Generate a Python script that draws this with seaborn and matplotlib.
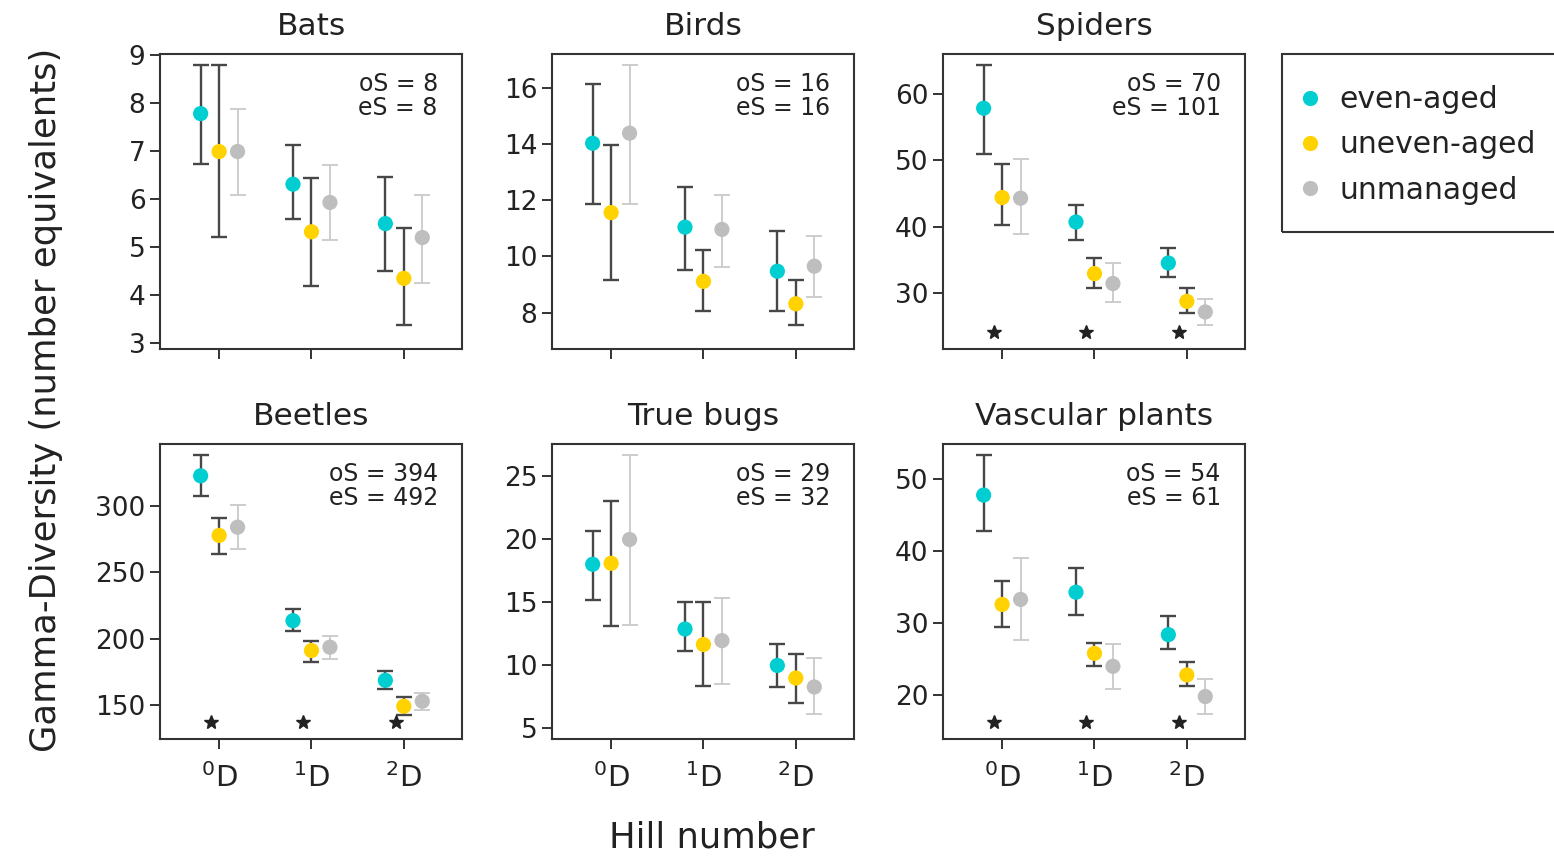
import numpy as np
import pandas as pd
import matplotlib
matplotlib.use("Agg")
import matplotlib.pyplot as plt
import matplotlib.transforms as mtransforms
from matplotlib.patches import Rectangle
import seaborn as sns

# ---------------------------------------------------------------- data
taxa = ["Bats", "Birds", "Spiders", "Beetles", "True bugs", "Vascular plants"]
management = ["even-aged", "uneven-aged", "unmanaged"]
hill_q = [1, 2, 3]
hill_labels = [r"$^{0}$D", r"$^{1}$D", r"$^{2}$D"]

observed_S = [8, 16, 70, 394, 29, 54]
estimated_S = [8, 16, 101, 492, 32, 61]

# rows: even-aged, uneven-aged, unmanaged ; columns: 0D, 1D, 2D
bats_mean = [[7.78, 6.31, 5.49], [6.99, 5.32, 4.35], [6.99, 5.93, 5.20]]
bats_low = [[6.73, 5.58, 4.50], [5.22, 4.19, 3.38], [6.09, 5.15, 4.25]]
bats_high = [[8.79, 7.13, 6.47], [8.79, 6.44, 5.39], [7.87, 6.72, 6.09]]

birds_mean = [[14.03, 11.04, 9.47], [11.56, 9.11, 8.31], [14.39, 10.96, 9.65]]
birds_low = [[11.88, 9.53, 8.06], [9.15, 8.06, 7.56], [11.88, 9.62, 8.54]]
birds_high = [[16.13, 12.48, 10.90], [13.97, 10.21, 9.15], [16.81, 12.18, 10.72]]

spiders_mean = [[57.9, 40.7, 34.5], [44.4, 32.9, 28.7], [44.3, 31.4, 27.1]]
spiders_low = [[51.0, 38.0, 32.4], [40.2, 30.7, 26.9], [38.9, 28.6, 25.2]]
spiders_high = [[64.4, 43.2, 36.7], [49.4, 35.2, 30.7], [50.3, 34.5, 29.0]]

beetles_mean = [[322.4, 213.5, 168.7], [277.6, 191.1, 149.2], [283.8, 193.6, 153.0]]
beetles_low = [[307.5, 205.6, 162.0], [263.4, 182.4, 143.0], [267.6, 184.9, 146.2]]
beetles_high = [[338.1, 222.3, 175.7], [290.8, 198.6, 156.2], [300.7, 202.3, 159.5]]

truebugs_mean = [[18.03, 12.89, 10.0], [18.11, 11.66, 9.0], [20.0, 11.97, 8.29]]
truebugs_low = [[15.21, 11.13, 8.29], [13.11, 8.34, 7.03], [13.24, 8.50, 6.13]]
truebugs_high = [[20.66, 15.0, 11.71], [23.03, 15.0, 10.87], [26.71, 15.39, 10.61]]

plants_mean = [[47.8, 34.3, 28.4], [32.6, 25.8, 22.8], [33.3, 24.0, 19.8]]
plants_low = [[42.8, 31.2, 26.4], [29.5, 24.1, 21.2], [27.6, 20.8, 17.4]]
plants_high = [[53.4, 37.6, 31.0], [35.9, 27.3, 24.6], [39.0, 27.1, 22.3]]

# Hill numbers with a significant management effect (marked with a star)
significant_q = {"Spiders": [1, 2, 3], "Beetles": [1, 2, 3], "Vascular plants": [1, 2, 3]}

y_ticks = [
    [3, 4, 5, 6, 7, 8, 9],
    [8, 10, 12, 14, 16],
    [30, 40, 50, 60],
    [150, 200, 250, 300],
    [5, 10, 15, 20, 25],
    [20, 30, 40, 50],
]
y_limits = [(2.88, 9.02), (6.70, 17.21), (21.5, 66.1), (124.6, 346.3), (4.16, 27.58), (13.9, 54.9)]

means = [bats_mean, birds_mean, spiders_mean, beetles_mean, truebugs_mean, plants_mean]
lows = [bats_low, birds_low, spiders_low, beetles_low, truebugs_low, plants_low]
highs = [bats_high, birds_high, spiders_high, beetles_high, truebugs_high, plants_high]

# long table: one row per taxon x management x Hill number
records = []
for t, taxon in enumerate(taxa):
    for g, grp in enumerate(management):
        for k, q in enumerate(hill_q):
            records.append({
                "taxon": taxon, "management": grp, "q": q,
                "mean": means[t][g][k], "low": lows[t][g][k], "high": highs[t][g][k],
            })
df = pd.DataFrame(records)

# ---------------------------------------------------------------- style
palette = {"even-aged": "#00CED1", "uneven-aged": "#FFD200", "unmanaged": "#BEBEBE"}
bar_colors = {"even-aged": "#474747", "uneven-aged": "#474747", "unmanaged": "#c9c9c9"}
bar_widths = {"even-aged": 1.7, "uneven-aged": 1.7, "unmanaged": 1.3}
dodge = {"even-aged": -0.2, "uneven-aged": 0.0, "unmanaged": 0.2}
df["xpos"] = df["q"] + df["management"].map(dodge)

sns.set_theme(style="ticks")
plt.rcParams["font.family"] = ["DejaVu Sans"]
plt.rcParams["mathtext.fontset"] = "dejavusans"
frame_color = "#333333"
text_color = "#222222"

W, H = 1554, 858
fig = plt.figure(figsize=(W / 100, H / 100), dpi=100)
fig.patch.set_facecolor("white")

col_left = [160, 552, 943]
row_top = [54, 444]
ax_w, ax_h = 302, 295

legend_handles, legend_labels = None, None
for t, taxon in enumerate(taxa):
    r, c = divmod(t, 3)
    left, top = col_left[c], row_top[r]
    ax = fig.add_axes([left / W, 1 - (top + ax_h) / H, ax_w / W, ax_h / H])
    sub = df[df["taxon"] == taxon]

    for grp in management:
        d = sub[sub["management"] == grp]
        ax.errorbar(d["xpos"], d["mean"],
                    yerr=[d["mean"] - d["low"], d["high"] - d["mean"]],
                    fmt="none", ecolor=bar_colors[grp], elinewidth=bar_widths[grp],
                    capsize=6, capthick=bar_widths[grp], zorder=2)

    sns.scatterplot(data=sub, x="xpos", y="mean", hue="management",
                    hue_order=management, palette=palette, s=120, linewidth=0,
                    ax=ax, legend=(t == 0), zorder=3)
    if t == 0:
        leg = ax.get_legend()
        legend_handles = leg.legend_handles
        legend_labels = [tx.get_text() for tx in leg.texts]
        leg.remove()

    if taxon in significant_q:
        trans = mtransforms.blended_transform_factory(ax.transData, ax.transAxes)
        xs = np.array(significant_q[taxon]) - 0.09
        ax.plot(xs, [0.058] * len(xs), ls="none", marker="*", ms=10.5,
                color=text_color, transform=trans, zorder=4)

    ax.text(0.92, 0.94, f"oS = {observed_S[t]}\neS = {estimated_S[t]}",
            transform=ax.transAxes, ha="right", va="top", multialignment="right",
            fontsize=17, color=text_color, linespacing=1.0)

    ax.set_xlim(0.36, 3.63)
    ax.set_ylim(*y_limits[t])
    ax.set_xticks(hill_q)
    ax.set_xticklabels(hill_labels if r == 1 else [])
    ax.set_yticks(y_ticks[t])
    ax.set_xlabel("")
    ax.set_ylabel("")
    ax.set_title(taxon, fontsize=22.5, color=text_color, pad=13.5)
    for sp in ax.spines.values():
        sp.set_visible(True)
        sp.set_color(frame_color)
        sp.set_linewidth(1.5)
    ax.tick_params(axis="both", direction="out", length=7.5, width=1.4,
                   color=frame_color, labelcolor=text_color)
    ax.tick_params(axis="y", labelsize=19, pad=3)
    ax.tick_params(axis="x", labelsize=21, pad=10)
    ax.set_facecolor("white")

# shared axis labels
fig.text(46 / W, 1 - 400 / H, "Gamma-Diversity (number equivalents)", rotation=90,
         ha="center", va="center", fontsize=25.5, color=text_color)
fig.text(712 / W, 1 - 847 / H, "Hill number", ha="center", va="baseline",
         fontsize=25.5, color=text_color)

# legend with an open-ended frame on the right
fig.add_artist(Rectangle((1282 / W, 1 - 232 / H), 300 / W, 178 / H,
                         transform=fig.transFigure, fill=False,
                         edgecolor=frame_color, linewidth=1.5, clip_on=False))
fig.legend(legend_handles, legend_labels, loc="upper left",
           bbox_to_anchor=(1301 / W, 1 - 85 / H), frameon=False, borderpad=0,
           borderaxespad=0, fontsize=21.5, handlelength=0.6, handletextpad=0.7,
           labelspacing=0.55, markerscale=1.0, labelcolor=text_color)

fig.savefig("out.png", dpi=100, facecolor="white")
